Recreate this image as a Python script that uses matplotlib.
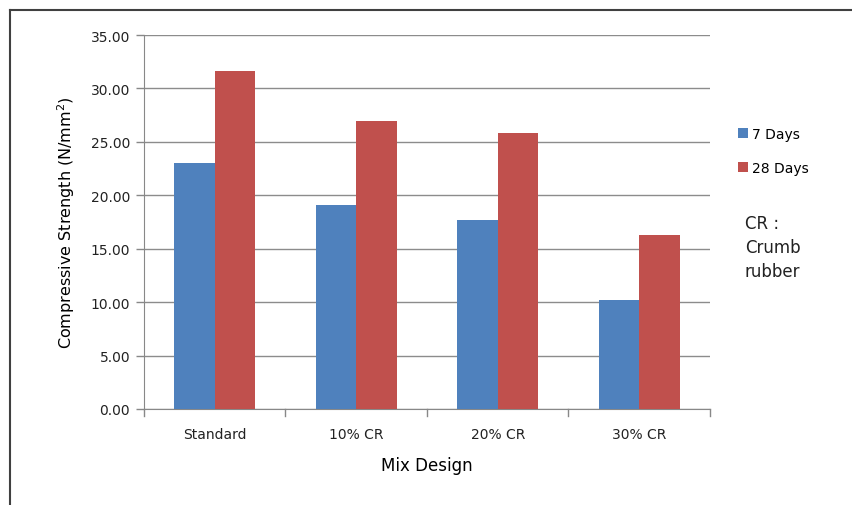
import matplotlib
matplotlib.use("Agg")
import matplotlib.pyplot as plt
import numpy as np
from matplotlib.lines import Line2D

categories = ["Standard", "10% CR", "20% CR", "30% CR"]
series_names = ["7 Days", "28 Days"]
days7 = [23.0, 19.05, 17.7, 10.2]
days28 = [31.6, 26.95, 25.85, 16.25]
yticks = [0, 5, 10, 15, 20, 25, 30, 35]

plt.rcParams['font.family'] = ['DejaVu Sans']
W, H = 853, 506
fig = plt.figure(figsize=(W/100, H/100), dpi=100)
ax = fig.add_axes([144/W, 1-410/H, (710-144)/W, (410-36)/H])

x = np.arange(len(categories))
bw = 1/3.5
ax.bar(x - bw/2, days7, bw, color="#4F81BD", label=series_names[0], zorder=3)
ax.bar(x + bw/2, days28, bw, color="#C0504D", label=series_names[1], zorder=3)

ax.set_xlim(-0.5, len(categories)-0.5)
ax.set_ylim(0, 35)
ax.set_yticks(yticks)
ax.set_yticklabels([f"{v:.2f}" for v in yticks], fontsize=10, color="#222222")
ax.set_xticks(x)
ax.set_xticklabels(categories, fontsize=10, color="#222222")
ax.tick_params(axis='x', length=0, pad=13)
ax.tick_params(axis='y', length=6, color="#888888", width=1, pad=4)
for b in np.arange(-0.5, len(categories), 1.0):
    ax.plot([b, b], [0, -0.018], transform=ax.get_xaxis_transform(), color="#888888", lw=1, clip_on=False)
ax.yaxis.grid(True, color="#8c8c8c", lw=1, zorder=0)
for s in ["top", "right"]:
    ax.spines[s].set_visible(False)
ax.spines["left"].set_color("#888888")
ax.spines["bottom"].set_color("#888888")

ax.set_ylabel("Compressive Strength (N/mm$^2$)", fontsize=11.5, labelpad=10)
ax.set_xlabel("Mix Design", fontsize=12, labelpad=11)

leg = fig.legend(loc="upper left", bbox_to_anchor=(732/W, 1-122/H), frameon=False,
                 fontsize=10, handlelength=0.75, handleheight=0.75, handletextpad=0.3,
                 labelspacing=1.45, borderaxespad=0)
fig.text(745/W, 1-215/H, "CR :\nCrumb\nrubber", fontsize=12, va="top", ha="left",
         linespacing=1.42, color="#222222")

fig.add_artist(Line2D([10/W, 10/W], [0, 1-11/H], color="#404040", lw=1.5))
fig.add_artist(Line2D([10/W, 1], [1-11/H, 1-11/H], color="#404040", lw=1.5))

fig.savefig("out.png", dpi=100)
